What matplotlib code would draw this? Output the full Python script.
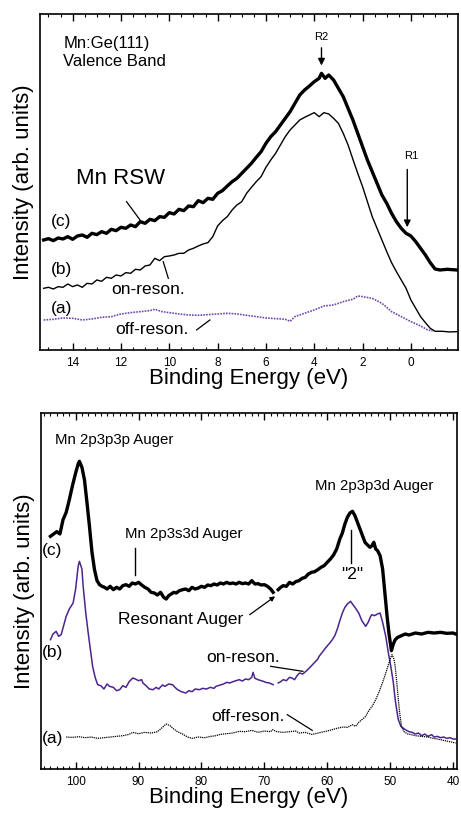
import numpy as np
import matplotlib
matplotlib.use("Agg")
import matplotlib.pyplot as plt
from matplotlib.ticker import MultipleLocator

plt.rcParams['font.family'] = ['Liberation Sans', 'DejaVu Sans']

# ---- top panel: valence band (binding energy in eV, intensity arb.) ----
vb_c_x = [15.2, 15.0, 14.8, 14.6, 14.4, 14.2, 14.0, 13.8, 13.6, 13.4, 13.2, 13.0, 12.8, 12.6, 12.4,
          12.2, 12.0, 11.8, 11.6, 11.4, 11.2, 11.0, 10.8, 10.6, 10.4, 10.2, 10.0, 9.8, 9.6, 9.4,
          9.2, 9.0, 8.8, 8.6, 8.4, 8.2, 8.0, 7.8, 7.6, 7.4, 7.2, 7.0, 6.8, 6.6, 6.4, 6.2, 6.0,
          5.8, 5.6, 5.4, 5.2, 5.0, 4.8, 4.6, 4.4, 4.2, 4.0, 3.8, 3.7, 3.55, 3.4, 3.2, 3.0, 2.8,
          2.6, 2.4, 2.2, 2.0, 1.8, 1.6, 1.4, 1.2, 1.0, 0.8, 0.6, 0.4, 0.2, 0.0, -0.2, -0.4, -0.6,
          -0.8, -1.0, -1.2, -1.5, -1.9]
vb_c_y = [330, 334, 328, 336, 333, 340, 332, 342, 345, 338, 350, 346, 355, 350, 362,
          358, 368, 365, 375, 370, 385, 380, 392, 388, 400, 398, 412, 408, 422, 418,
          432, 430, 448, 442, 455, 452, 470, 478, 492, 505, 515, 530, 545, 560, 578, 595, 620,
          640, 655, 675, 695, 715, 740, 765, 780, 792, 805, 815, 830, 815, 825, 810, 785, 760,
          725, 690, 650, 610, 570, 535, 500, 465, 440, 410, 385, 365, 350, 342, 325, 305, 285,
          262, 243, 240, 242, 240]

vb_b_x = [15.2, 15.0, 14.8, 14.6, 14.4, 14.2, 14.0, 13.8, 13.6, 13.4, 13.2, 13.0, 12.8, 12.6, 12.4,
          12.2, 12.0, 11.8, 11.6, 11.4, 11.2, 11.0, 10.8, 10.6, 10.4, 10.2, 10.0, 9.8, 9.6, 9.4,
          9.2, 9.0, 8.8, 8.6, 8.4, 8.2, 8.0, 7.8, 7.6, 7.4, 7.2, 7.0, 6.8, 6.6, 6.4, 6.2, 6.0,
          5.8, 5.6, 5.4, 5.2, 5.0, 4.8, 4.6, 4.4, 4.2, 4.0, 3.8, 3.6, 3.4, 3.2, 3.0, 2.8,
          2.6, 2.4, 2.2, 2.0, 1.8, 1.6, 1.4, 1.2, 1.0, 0.8, 0.6, 0.4, 0.2, 0.0, -0.2, -0.4, -0.6,
          -0.8, -1.0, -1.3, -1.6, -1.9]
vb_b_y = [185, 188, 183, 190, 188, 198, 190, 195, 188, 200, 198, 210, 206, 218, 215,
          225, 222, 232, 230, 242, 240, 252, 255, 275, 268, 280, 282, 285, 290, 290,
          300, 305, 312, 318, 322, 340, 372, 388, 400, 420, 435, 445, 470, 488, 505, 520, 548,
          570, 590, 615, 640, 660, 675, 690, 698, 705, 712, 700, 712, 708, 695, 680, 650,
          615, 572, 530, 490, 445, 400, 365, 330, 295, 262, 235, 210, 185, 150, 125, 100, 82,
          65, 56, 56, 54, 55]

vb_a_x = [15.2, 14.8, 14.4, 14.0, 13.6, 13.2, 12.8, 12.4, 12.0, 11.6, 11.2, 10.8, 10.6, 10.3,
          10.0, 9.6, 9.2, 8.8, 8.4, 8.0, 7.6, 7.2, 6.8, 6.4, 6.0, 5.6, 5.2, 5.0, 4.8, 4.4,
          4.0, 3.6, 3.2, 2.8, 2.4, 2.2, 2.0, 1.6, 1.2, 1.0, 0.8, 0.4, 0.0, -0.4, -0.7, -0.9]
vb_a_y = [90, 92, 96, 95, 90, 93, 98, 100, 108, 112, 115, 118, 122, 115,
          112, 108, 105, 104, 106, 108, 110, 108, 104, 100, 96, 94, 92, 86, 100, 110,
          120, 132, 135, 145, 152, 162, 160, 155, 140, 128, 115, 100, 85, 72, 60, 57]

# ---- bottom panel: Auger region ----
nan = np.nan
au_c_x = [104.0, 103.5, 103.0, 102.5, 102.0, 101.5, 101.0, 100.5, 100.0, 99.6, 99.4, 99.0, 98.6,
          98.2, 97.8, 97.4, 97.0, 96.6, 96.2, 95.8, 95.4, 95.0, 94.5, 94.0, 93.5, 93.0, 92.5,
          92.0, 91.5, 91.0, 90.5, 90.0, 89.5, 89.0, 88.5, 88.0, 87.5, 87.0, 86.5, 86.0, 85.6,
          85.2, 84.8, 84.4, 84.0, 83.5, 83.0, 82.5, 82.0, 81.5, 81.0, 80.5, 80.0, 79.5, 79.0,
          78.5, 78.0, 77.5, 77.0, 76.5, 76.0, 75.5, 75.0, 74.5, 74.0, 73.5, 73.0, 72.5, 72.0,
          71.5, 71.0, 70.5, 70.0, 69.5, 69.0, 68.6, 68.2, 67.8, 67.4, 67.0, 66.5, 66.0, 65.5,
          65.0, 64.5, 64.0, 63.5, 63.0, 62.5, 62.0, 61.5, 61.0, 60.5, 60.0, 59.5, 59.0, 58.5,
          58.0, 57.6, 57.2, 56.8, 56.4, 56.0, 55.6, 55.2, 54.8, 54.4, 54.0, 53.6, 53.2, 52.9,
          52.6, 52.3, 52.0, 51.6, 51.2, 50.8, 50.5, 50.2, 49.8, 49.5, 49.2, 48.8, 48.2, 47.6,
          47.0, 46.0, 45.0, 44.0, 43.0, 42.0, 41.0, 40.0, 39.6]
au_c_y = [698, 705, 712, 705, 748, 770, 808, 850, 888, 915, 923, 905, 868,
          800, 728, 650, 598, 565, 553, 548, 545, 540, 548, 538, 545, 540, 550,
          553, 548, 558, 555, 560, 552, 545, 540, 530, 528, 522, 530, 515, 510,
          520, 525, 530, 528, 535, 538, 540, 535, 545, 540, 543, 548, 545, 552,
          550, 555, 552, 558, 555, 560, 556, 558, 555, 560, 556, 558, 555, 565,
          555, 556, 552, 553, 548, 540, 530, nan, 538, 545, 550, 548, 560, 555,
          562, 565, 572, 575, 585, 590, 592, 598, 605, 610, 620, 630, 642, 660,
          690, 708, 735, 755, 768, 773, 760, 740, 720, 700, 680, 672, 665, 670,
          680, 660, 655, 640, 600, 520, 460, 408, 355, 375, 388, 395, 400, 405,
          402, 408, 405, 410, 408, 410, 407, 408, 405]

au_b_x = [104.0, 103.6, 103.1, 102.7, 102.3, 101.9, 101.5, 101.0, 100.4, 100.0, 99.6, 99.4, 99.0,
          98.8, 98.4, 98.0, 97.6, 97.3, 96.9, 96.5, 96.0, 95.5, 95.0, 94.6, 94.0, 93.5, 93.0,
          92.5, 92.0, 91.5, 90.9, 90.5, 90.0, 89.5, 89.3, 88.8, 88.3, 87.7, 87.2, 86.8, 86.2,
          85.8, 85.2, 84.6, 84.2, 83.8, 83.2, 82.5, 82.0, 81.5, 81.0, 80.3, 79.8, 79.2, 78.6,
          78.0, 77.7, 77.0, 76.5, 76.0, 75.5, 75.0, 74.5, 74.0, 73.5, 73.0, 72.5, 72.0, 71.8,
          71.5, 71.0, 70.5, 70.0, 69.8, 69.2, 68.6, 68.2, 67.8, 67.4, 67.0, 66.5, 66.0, 65.6,
          65.2, 64.8, 64.4, 63.9, 63.4, 63.0, 62.5, 62.0, 61.5, 61.3, 60.8, 60.2, 59.6, 59.2,
          58.8, 58.4, 58.0, 57.6, 57.2, 56.8, 56.3, 56.0, 55.6, 55.0, 54.5, 53.9, 53.5, 53.1,
          52.9, 52.5, 52.0, 51.6, 51.2, 50.7, 50.3, 49.9, 49.5, 49.2, 48.9, 48.7, 48.3, 47.6,
          47.0, 46.5, 46.0, 45.5, 45.0, 44.5, 44.0, 43.4, 43.0, 42.5, 42.0, 41.5, 41.0, 40.5,
          40.0, 39.6]
au_b_y = [388, 405, 413, 398, 403, 430, 458, 480, 498, 540, 608, 623, 600,
          548, 470, 408, 350, 308, 275, 253, 250, 240, 255, 248, 245, 235, 238,
          250, 245, 262, 273, 270, 265, 268, 258, 250, 240, 238, 245, 240, 252,
          248, 255, 253, 245, 238, 232, 228, 235, 232, 240, 238, 242, 240, 245,
          242, 248, 252, 255, 260, 258, 262, 265, 268, 264, 270, 268, 275, 290,
          272, 268, 265, 262, 260, 258, 253, nan, 258, 262, 268, 265, 275, 273,
          268, 280, 288, 285, 293, 300, 310, 320, 330, 338, 350, 365, 378, 388,
          400, 420, 445, 468, 485, 495, 503, 495, 485, 468, 445, 428, 440, 458,
          463, 460, 465, 468, 440, 398, 350, 308, 260, 208, 170, 148, 128, 118,
          112, 110, 105, 108, 100, 105, 98, 103, 96, 98, 94, 96, 92, 94,
          90, 90]

au_a_x = [101.5, 100.5, 99.5, 98.5, 97.5, 96.5, 95.5, 94.5, 93.5, 92.5, 91.5, 90.9, 90.0, 89.0,
          88.0, 87.0, 86.2, 85.6, 85.0, 84.4, 83.8, 83.0, 82.2, 81.5, 80.5, 79.5, 78.5, 77.7,
          77.0, 76.0, 75.0, 74.0, 73.0, 72.0, 71.0, 70.0, 69.0, 68.7, 68.0, 67.0, 66.0, 65.0,
          64.5, 63.5, 62.5, 61.9, 61.0, 60.0, 59.2, 58.5, 57.5, 56.8, 56.0, 55.5, 55.0, 54.5,
          53.9, 53.4, 52.8, 52.3, 51.8, 51.2, 50.7, 50.2, 49.9, 49.7, 49.4, 49.2, 49.0, 48.7,
          48.5, 48.2, 47.8, 47.2, 46.6, 46.0, 45.0, 44.0, 43.4, 42.5, 41.5, 40.5, 39.6]
au_a_y = [96, 95, 97, 94, 96, 92, 94, 96, 98, 100, 104, 110, 106, 110,
          108, 112, 125, 135, 130, 120, 112, 105, 96, 92, 96, 94, 98, 100,
          104, 106, 108, 113, 112, 116, 110, 114, 112, 118, 112, 110, 112, 114,
          108, 110, 104, 106, 110, 114, 118, 122, 126, 125, 133, 128, 140, 148,
          158, 175, 190, 208, 230, 260, 288, 318, 335, 343, 330, 308, 270, 208,
          170, 128, 112, 105, 103, 100, 98, 96, 93, 90, 86, 82, 78]

purple_top = '#7048b0'
purple_bot = '#4b2490'

fig = plt.figure(figsize=(4.61, 8.15), dpi=100)
ax1 = fig.add_axes([0.0868, 0.5706, 0.9067, 0.4122])
ax2 = fig.add_axes([0.089, 0.0564, 0.902, 0.4369])

for ax in (ax1, ax2):
    ax.tick_params(axis='x', which='both', direction='in', top=True, bottom=True,
                   labelsize=8.5, pad=5)
    ax.tick_params(axis='x', which='major', length=5, width=1)
    ax.tick_params(axis='x', which='minor', length=2.5, width=0.8)
    ax.set_yticks([])
    for s in ax.spines.values():
        s.set_linewidth(1.2)
    ax.set_xlabel('Binding Energy (eV)', fontsize=16, labelpad=-1)
    ax.set_ylabel('Intensity (arb. units)', fontsize=16, labelpad=4)

# top panel
ax1.plot(vb_c_x, vb_c_y, color='black', lw=2.4)
ax1.plot(vb_b_x, vb_b_y, color='black', lw=1.0)
ax1.plot(vb_a_x, vb_a_y, color=purple_top, lw=1.2, ls=(0, (1, 0.7)))
ax1.set_xlim(15.35, -1.95)
ax1.set_ylim(0, 1008)
ax1.xaxis.set_major_locator(MultipleLocator(2))
ax1.xaxis.set_minor_locator(MultipleLocator(0.5))

ax1.text(14.39, 920, 'Mn:Ge(111)', fontsize=12, va='center')
ax1.text(14.39, 865, 'Valence Band', fontsize=12, va='center')
ax1.text(3.70, 940, 'R2', fontsize=8, ha='center', va='center')
ax1.annotate('', xy=(3.7, 845), xytext=(3.7, 915),
             arrowprops=dict(arrowstyle='-|>', color='black', lw=1.0, mutation_scale=10))
ax1.text(0.0, 582, 'R1', fontsize=8, ha='center', va='center')
ax1.annotate('', xy=(0.15, 360), xytext=(0.15, 550),
             arrowprops=dict(arrowstyle='-|>', color='black', lw=1.0, mutation_scale=10))
ax1.text(12.01, 515, 'Mn RSW', fontsize=16, ha='center', va='center')
ax1.plot([11.77, 11.21], [445, 390], color='black', lw=0.9)
ax1.text(14.46, 385, '(c)', fontsize=12.5, ha='center', va='center')
ax1.text(14.46, 240, '(b)', fontsize=12.5, ha='center', va='center')
ax1.text(14.46, 125, '(a)', fontsize=12.5, ha='center', va='center')
ax1.text(10.87, 180, 'on-reson.', fontsize=12.5, ha='center', va='center')
ax1.plot([10.04, 10.25], [215, 265], color='black', lw=0.9)
ax1.text(10.70, 60, 'off-reson.', fontsize=12.5, ha='center', va='center')
ax1.plot([8.87, 8.32], [60, 90], color='black', lw=0.9)

# bottom panel
ax2.plot(au_c_x, au_c_y, color='black', lw=2.4)
ax2.plot(au_b_x, au_b_y, color=purple_bot, lw=1.1)
ax2.plot(au_a_x, au_a_y, color='black', lw=0.9, ls=(0, (1, 0.7)))
ax2.set_xlim(105.5, 39.4)
ax2.set_ylim(0, 1068)
ax2.xaxis.set_major_locator(MultipleLocator(10))
ax2.xaxis.set_minor_locator(MultipleLocator(1))

ax2.text(103.33, 986, 'Mn 2p3p3p Auger', fontsize=10.8, va='center')
ax2.text(61.97, 848, 'Mn 2p3p3d Auger', fontsize=10.8, va='center')
ax2.text(92.23, 705, 'Mn 2p3s3d Auger', fontsize=10.8, va='center')
ax2.plot([90.49, 90.49], [663, 583], color='black', lw=1.0)
ax2.text(56.05, 583, '"2"', fontsize=12.5, ha='center', va='center')
ax2.plot([56.21, 56.21], [718, 618], color='black', lw=1.0)
ax2.text(93.29, 448, 'Resonant Auger', fontsize=12.6, va='center')
ax2.annotate('', xy=(67.93, 523), xytext=(72.69, 458),
             arrowprops=dict(arrowstyle='-|>', color='black', lw=0.9, mutation_scale=7))
ax2.text(79.29, 336, 'on-reson.', fontsize=12.5, va='center')
ax2.plot([68.99, 63.87], [308, 293], color='black', lw=0.9)
ax2.text(78.50, 158, 'off-reson.', fontsize=12.5, va='center')
ax2.plot([66.35, 62.39], [163, 116], color='black', lw=0.9)
ax2.text(103.7, 655, '(c)', fontsize=12.5, ha='center', va='center')
ax2.text(103.7, 351, '(b)', fontsize=12.5, ha='center', va='center')
ax2.text(103.7, 91, '(a)', fontsize=12.5, ha='center', va='center')

fig.savefig('out.png', dpi=100)
